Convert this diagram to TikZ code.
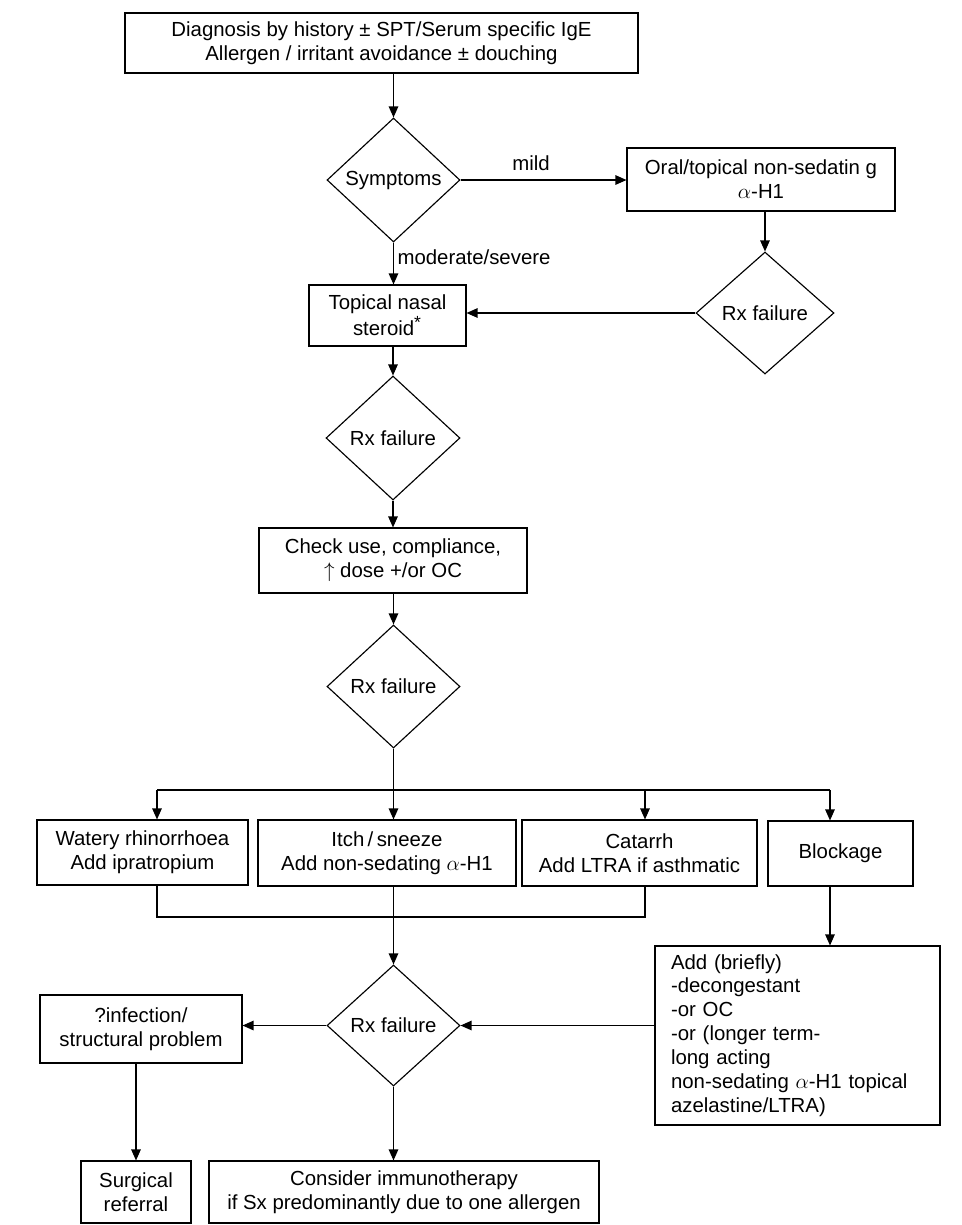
\documentclass[tikz,border=0pt]{standalone}
\usepackage{fontspec}
\setmainfont{Liberation Sans}
\usepackage{tikz}
\usetikzlibrary{arrows.meta,positioning,shapes.geometric}

\begin{document}
\begin{tikzpicture}[x=0.02cm, y=-0.02cm,
  every node/.style={font=\fontsize{11.6}{13.6}\selectfont},
  box/.style={draw, line width=0.65pt, align=center, inner sep=2pt},
  decision/.style={draw, diamond, line width=0.65pt, inner sep=0pt, align=center},
  arr/.style={line width=0.65pt, -{Triangle[length=0.22cm, width=0.19cm]}},
  lbl/.style={inner sep=0pt}]
  \useasboundingbox (0,0) rectangle (962,1225);

  % Top of the chart
  \node[box, minimum width=10.26cm, minimum height=1.2cm] (diag) at (381.5,43)
    {Diagnosis by history \textpm{} SPT/Serum specific IgE\\
     Allergen / irritant avoidance \textpm{} douching};
  \node[decision, minimum width=2.66cm, minimum height=2.48cm] (sym) at (393.5,180) {Symptoms};
  \node[box, minimum width=5.36cm, minimum height=1.26cm] (oral) at (761,179.5)
    {Oral/topical non-sedatin g\\ $\alpha$-H1};
  \node[decision, minimum width=2.76cm, minimum height=2.44cm] (rxa) at (765,313) {Rx failure};
  \node[box, minimum width=3.14cm, minimum height=1.22cm] (topical) at (387.5,315.5)
    {Topical nasal\\ steroid\textsuperscript{\normalsize*}};
  \node[lbl] (mildlbl) at (531,163) {mild};
  \node[lbl] (sevlbl) at (474,257) {moderate/severe};

  \draw[arr] (sym.north |- diag.south) -- (sym.north);
  \draw[arr] (sym.east) -- (sym.east -| oral.west);
  \draw[arr] (rxa.north |- oral.south) -- (rxa.north);
  \draw[arr] (rxa.west) -- (rxa.west -| topical.east);
  \draw[arr] (sym.south) -- (sym.south |- topical.north);

  % Middle column
  \node[decision, minimum width=2.68cm, minimum height=2.48cm] (rxb) at (393,438) {Rx failure};
  \node[box, minimum width=5.36cm, minimum height=1.3cm] (check) at (393,560.5)
    {Check use, compliance,\\ $\uparrow$ dose +/or OC};
  \node[decision, minimum width=2.66cm, minimum height=2.46cm] (rxc) at (393.5,686.5) {Rx failure};

  \draw[arr] (rxb.north |- topical.south) -- (rxb.north);
  \draw[arr] (rxb.south) -- (rxb.south |- check.north);
  \draw[arr] (rxc.north |- check.south) -- (rxc.north);

  % Four symptom boxes
  \node[box, minimum width=4.22cm, minimum height=1.3cm] (watery) at (142.5,852.5)
    {Watery rhinorrhoea\\ Add ipratropium};
  \node[box, minimum width=5.16cm, minimum height=1.32cm] (itch) at (387,853)
    {Itch\,/\,sneeze\\ Add non-sedating $\alpha$-H1};
  \node[box, minimum width=4.7cm, minimum height=1.32cm] (catarrh) at (639.5,853)
    {Catarrh\\ Add LTRA if asthmatic};
  \node[box, minimum width=2.9cm, minimum height=1.3cm] (block) at (840.5,853.5) {Blockage};

  \coordinate (split) at (393.5,790);
  \coordinate (wj) at (157,790);
  \coordinate (ij) at (393.5,790);
  \coordinate (cj) at (645,790);
  \coordinate (bj) at (830,790);
  \coordinate (merge) at (393.5,917);
  \draw[line width=0.65pt] (rxc.south) -- (split);
  \draw[line width=0.65pt] (wj) -- (bj);
  \foreach \j/\n in {wj/watery, ij/itch, cj/catarrh, bj/block}
    \draw[arr] (\j) -- (\j |- \n.north);
  \draw[line width=0.65pt] (wj |- watery.south) |- (merge) -| (cj |- catarrh.south);

  % Lower part
  \node[decision, minimum width=2.66cm, minimum height=2.42cm] (rxd) at (393.5,1025.5) {Rx failure};
  \node[box, minimum width=5.7cm, minimum height=3.58cm, text width=5.06cm,
        align=left, inner xsep=0.32cm] (add) at (797.5,1035.5)
    {Add (briefly)\\ -decongestant\\ -or OC\\ -or (longer term-\\ long acting\\
     non-sedating $\alpha$-H1 topical\\ azelastine/LTRA)};
  \node[box, minimum width=4.04cm, minimum height=1.36cm] (infect) at (141,1029)
    {?infection/\\ structural problem};
  \node[box, minimum width=2.2cm, minimum height=1.24cm] (surg) at (136,1192)
    {Surgical\\ referral};
  \node[box, minimum width=7.8cm, minimum height=1.24cm] (cons) at (404,1192)
    {Consider immunotherapy\\ if Sx predominantly due to one allergen};

  \draw[arr] (ij |- itch.south) -- (rxd.north);
  \draw[arr] (bj |- block.south) -- (bj |- add.north);
  \draw[arr] (rxd.east -| add.west) -- (rxd.east);
  \draw[arr] (rxd.west) -- (rxd.west -| infect.east);
  \draw[arr] (surg.north |- infect.south) -- (surg.north);
  \draw[arr] (rxd.south) -- (rxd.south |- cons.north);
\end{tikzpicture}
\end{document}
